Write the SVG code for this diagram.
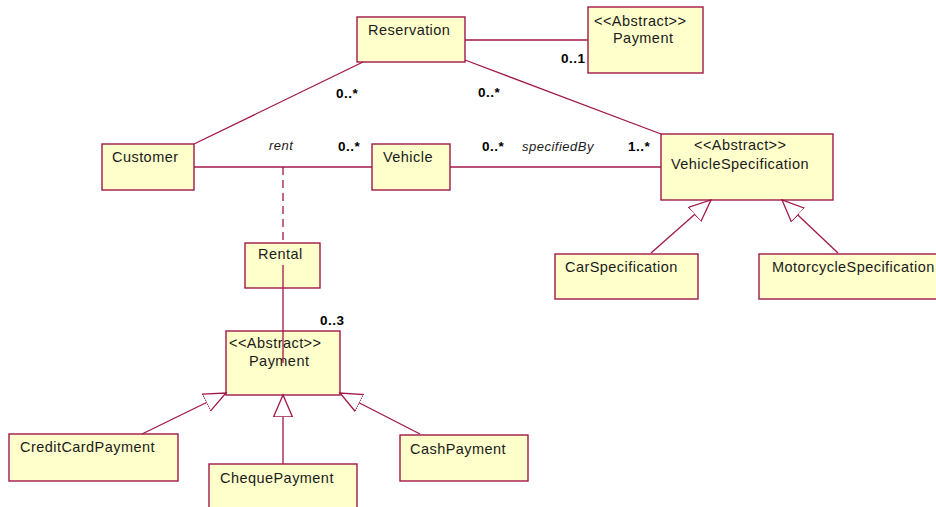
<svg xmlns="http://www.w3.org/2000/svg" width="936" height="507" viewBox="0 0 936 507">
  <style>
    .box { fill: #FFFFCC; stroke: #A0174A; stroke-width: 1.4; }
    .edge { fill: none; stroke: #A0174A; stroke-width: 1.3; }
    .dash { stroke-dasharray: 8 5; }
    .name { font-family: "Liberation Sans", Arial, sans-serif; font-size: 14.5px; letter-spacing: 0.45px; fill: #1a1a1a; }
    .mult { font-family: "Liberation Sans", Arial, sans-serif; font-size: 13.5px; font-weight: bold; letter-spacing: 0.5px; fill: #000; }
    .role { font-family: "Liberation Sans", Arial, sans-serif; font-size: 13px; font-style: italic; letter-spacing: 0.5px; fill: #1a1a1a; }
  </style>
  <defs>
    <marker id="gen" viewBox="0 0 24 22" refX="22" refY="10" markerWidth="24" markerHeight="22" markerUnits="userSpaceOnUse" orient="auto">
      <path d="M0,0.5 L22,10 L0,19.5 Z" fill="#ffffff" stroke="#A0174A" stroke-width="1.3"/>
    </marker>
  </defs>
  <rect width="936" height="507" fill="#ffffff"/>

  <g id="reservation">
    <rect class="box" x="357" y="17" width="108" height="45"/>
    <text class="name" x="368" y="35">Reservation</text>
  </g>
  <g id="payment-top">
    <rect class="box" x="588" y="7" width="115" height="66"/>
    <text class="name" x="594" y="26">&lt;&lt;Abstract&gt;&gt;</text>
    <text class="name" x="613" y="43">Payment</text>
  </g>
  <g id="customer">
    <rect class="box" x="102" y="144" width="92" height="46"/>
    <text class="name" x="112" y="162">Customer</text>
  </g>
  <g id="vehicle">
    <rect class="box" x="372" y="144" width="78" height="46"/>
    <text class="name" x="383" y="162">Vehicle</text>
  </g>
  <g id="vehicle-specification">
    <rect class="box" x="661" y="134" width="172" height="66"/>
    <text class="name" x="694" y="150">&lt;&lt;Abstract&gt;&gt;</text>
    <text class="name" x="671" y="169">VehicleSpecification</text>
  </g>
  <g id="car-specification">
    <rect class="box" x="555" y="254" width="143" height="45"/>
    <text class="name" x="565" y="272">CarSpecification</text>
  </g>
  <g id="motorcycle-specification">
    <rect class="box" x="759" y="254" width="182" height="45"/>
    <text class="name" x="772" y="272">MotorcycleSpecification</text>
  </g>
  <g id="rental">
    <rect class="box" x="245" y="243" width="75" height="45"/>
    <text class="name" x="258" y="259">Rental</text>
  </g>
  <g id="payment">
    <rect class="box" x="226" y="331" width="114" height="64"/>
    <text class="name" x="229" y="348">&lt;&lt;Abstract&gt;&gt;</text>
    <text class="name" x="249" y="366">Payment</text>
  </g>
  <g id="credit-card-payment">
    <rect class="box" x="9" y="434" width="169" height="47"/>
    <text class="name" x="20" y="452">CreditCardPayment</text>
  </g>
  <g id="cheque-payment">
    <rect class="box" x="209" y="464" width="148" height="50"/>
    <text class="name" x="220" y="483">ChequePayment</text>
  </g>
  <g id="cash-payment">
    <rect class="box" x="400" y="435" width="128" height="46"/>
    <text class="name" x="410" y="454">CashPayment</text>
  </g>

  <g id="connectors">
    <!-- associations -->
    <line class="edge" x1="465" y1="40" x2="588" y2="40"/>
    <line class="edge" x1="363" y1="62" x2="194" y2="144"/>
    <line class="edge" x1="465" y1="60" x2="661" y2="134"/>
    <line class="edge" x1="194" y1="167" x2="372" y2="167"/>
    <line class="edge" x1="450" y1="167" x2="661" y2="167"/>
    <line class="edge dash" x1="283" y1="167" x2="283" y2="243"/>
    <line class="edge" x1="283" y1="265" x2="283" y2="363"/>
    <!-- generalizations -->
    <line class="edge" x1="651" y1="253" x2="711" y2="200" marker-end="url(#gen)"/>
    <line class="edge" x1="838" y1="253" x2="782" y2="200" marker-end="url(#gen)"/>
    <line class="edge" x1="142" y1="434" x2="226" y2="393" marker-end="url(#gen)"/>
    <line class="edge" x1="283" y1="464" x2="283" y2="395" marker-end="url(#gen)"/>
    <line class="edge" x1="420" y1="434" x2="340" y2="393" marker-end="url(#gen)"/>
    <!-- labels -->
    <text class="mult" x="561" y="63">0..1</text>
    <text class="mult" x="336" y="98">0..*</text>
    <text class="mult" x="478" y="97">0..*</text>
    <text class="role" x="269" y="150">rent</text>
    <text class="mult" x="338" y="151">0..*</text>
    <text class="mult" x="482" y="151">0..*</text>
    <text class="role" x="522" y="151">specifiedBy</text>
    <text class="mult" x="628" y="151">1..*</text>
    <text class="mult" x="320" y="325">0..3</text>
  </g>
</svg>
